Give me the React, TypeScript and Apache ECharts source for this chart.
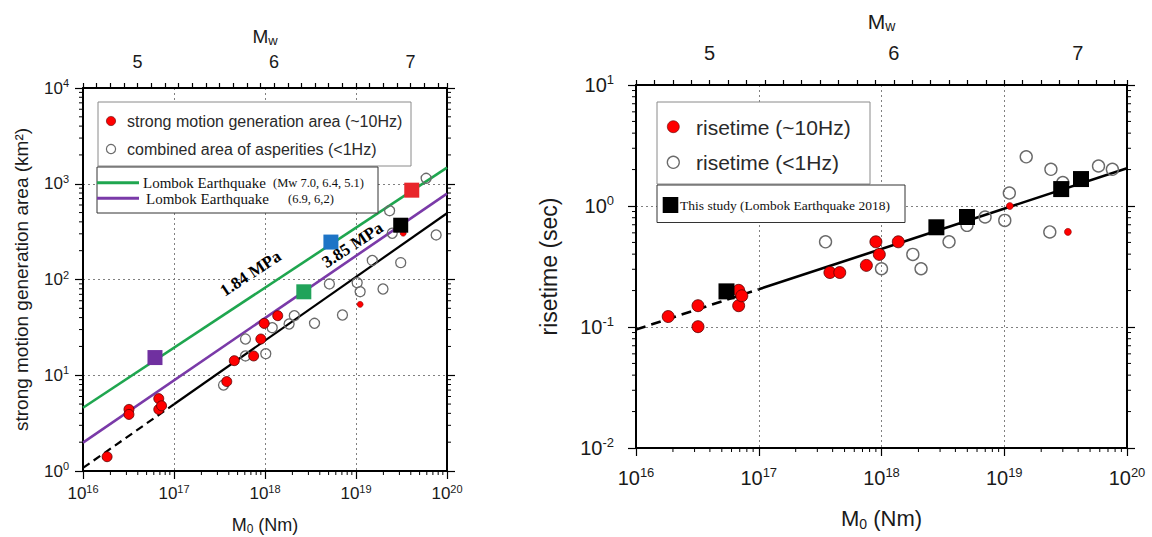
import React, { useEffect, useRef } from 'react';
import * as echarts from 'echarts';

const SANS = '"Liberation Sans", Arial, Helvetica, sans-serif';
const SERIF = '"Liberation Serif", "Times New Roman", Times, serif';

// ---------- Left panel: strong motion generation area ----------
const areaRedM0 = [1.84e16, 3.2e16, 3.2e16, 6.8e16, 6.8e16, 7.3e16, 3.8e17, 4.6e17, 7.5e17, 9.0e17, 9.8e17, 1.38e18];
const areaRedVal = [1.41, 4.4, 3.9, 5.7, 4.4, 4.8, 8.6, 14.2, 15.9, 23.9, 34.8, 41.9];
const areaRedSmallM0 = [1.11e19, 3.3e19];
const areaRedSmallVal = [55, 304];
const areaOpenM0 = [3.5e17, 6.1e17, 6.1e17, 1.02e18, 1.2e18, 1.84e18, 2.1e18, 3.5e18, 5.1e18, 7.1e18, 1.03e19, 1.11e19, 1.98e19, 1.51e19, 3.1e19, 2.34e19, 2.5e19, 7.6e19, 5.9e19];
const areaOpenVal = [7.9, 23.9, 15.9, 16.8, 31.4, 34.3, 41.9, 34.9, 89.8, 42.6, 92.6, 74.6, 79.6, 158, 150, 523, 304, 292, 1140];
const lombokM0 = [6.18e16, 2.67e18, 5.3e18, 3.1e19, 4.1e19];
const lombokArea = [15.3, 74.4, 246, 369, 857];
const greenLineM0 = [1e16, 1e20];
const greenLineArea = [4.58, 1471];
const purpleLineM0 = [1e16, 1e20];
const purpleLineArea = [1.98, 789];
const areaDashM0 = [1e16, 1e17];
const areaDashVal = [1.076, 4.98];
const areaSolidM0 = [1e17, 1e20];
const areaSolidVal = [4.98, 492];

// ---------- Right panel: risetime ----------
const riseRedM0 = [1.83e16, 3.2e16, 3.2e16, 6.86e16, 6.86e16, 7.28e16, 3.8e17, 4.57e17, 7.53e17, 9.0e17, 9.6e17, 1.37e18];
const riseRedVal = [0.122, 0.15, 0.1006, 0.201, 0.15, 0.181, 0.282, 0.282, 0.323, 0.506, 0.398, 0.506];
const riseRedSmallM0 = [1.11e19, 3.3e19];
const riseRedSmallVal = [1.0, 0.611];
const riseOpenM0 = [3.5e17, 1.0e18, 1.8e18, 2.1e18, 3.55e18, 4.97e18, 6.98e18, 1.01e19, 1.1e19, 1.51e19, 2.4e19, 2.35e19, 3.0e19, 5.86e19, 7.6e19];
const riseOpenVal = [0.506, 0.303, 0.398, 0.303, 0.506, 0.692, 0.811, 0.76, 1.28, 2.55, 2.01, 0.61, 1.56, 2.14, 2.01];
const riseThisM0 = [5.46e16, 2.8e18, 4.97e18, 2.91e19, 4.22e19];
const riseThisVal = [0.197, 0.667, 0.811, 1.38, 1.67];
const riseDashM0 = [1e16, 1e17];
const riseDashVal = [0.0953, 0.205];
const riseSolidM0 = [1e17, 1e20];
const riseSolidVal = [0.205, 2.05];

// ---------- Axes ----------
const M0_MIN = 1e16;
const M0_MAX = 1e20;
const AREA_MIN = 1;
const AREA_MAX = 1e4;
const RISE_MIN = 0.01;
const RISE_MAX = 10;
const MINOR_STEPS = [2, 3, 4, 5, 6, 7, 8, 9];
const M0_DECADES = [16, 17, 18, 19];
const AREA_DECADES = [0, 1, 2, 3];
const RISE_DECADES = [-2, -1, 0];
const mw = (m0: number) => (2 / 3) * (Math.log10(m0) - 9.1);
const MW_MIN = 4.6;
const MW_MAX = mw(M0_MAX);

const lombokColors = ['#7030a0', '#21a35a', '#1e74c6', '#000000', '#e8262b'];

const zip = (xs: number[], ys: number[]) => xs.map((x, i) => [x, ys[i]]);
const minorVals = (decades: number[]) => decades.flatMap((d) => MINOR_STEPS.map((m) => m * Math.pow(10, d)));

const TXT = '#1a1a1a';

function logLabel(size: number, sup: number, margin: number) {
  return {
    margin,
    formatter: (v: number) => `{b|10}{s|${Math.round(Math.log10(v))}}`,
    rich: {
      b: { fontSize: size, fontFamily: SANS, color: TXT, lineHeight: size + 4 },
      s: { fontSize: sup, fontFamily: SANS, color: TXT, verticalAlign: 'top', lineHeight: sup },
    },
  };
}

const axisLine = { onZero: false, lineStyle: { color: '#000', width: 2 } };
const tickStyle = { color: '#000', width: 1.2 };
const gridDots = { show: true, lineStyle: { color: '#808080', type: [2, 3], width: 1 } };

function xMinorRender(params: any, api: any) {
  const cs = params.coordSys;
  const p = api.coord([api.value(0), api.value(1)]);
  const yb = cs.y + cs.height;
  return {
    type: 'line',
    shape: { x1: p[0], y1: yb, x2: p[0], y2: yb + 4 },
    style: { stroke: '#000', lineWidth: 1 },
  };
}

function yMinorRender(params: any, api: any) {
  const cs = params.coordSys;
  const p = api.coord([api.value(0), api.value(1)]);
  return {
    type: 'group',
    children: [
      { type: 'line', shape: { x1: cs.x - 4, y1: p[1], x2: cs.x, y2: p[1] }, style: { stroke: '#000', lineWidth: 1 } },
      { type: 'line', shape: { x1: cs.x + cs.width, y1: p[1], x2: cs.x + cs.width + 4, y2: p[1] }, style: { stroke: '#000', lineWidth: 1 } },
    ],
  };
}

function mwFormatter(v: number) {
  return Math.abs(v - Math.round(v)) < 1e-6 ? String(Math.round(v)) : '';
}

function buildOption() {
  const leftRot = Math.atan(0.659);
  return {
    animation: false,
    backgroundColor: '#ffffff',
    grid: [
      { left: 83, top: 88, width: 364, height: 383, containLabel: false, outerBoundsMode: 'none' },
      { left: 636, top: 85, width: 491, height: 363, containLabel: false, outerBoundsMode: 'none' },
    ],
    xAxis: [
      {
        gridIndex: 0, type: 'log', logBase: 10, min: M0_MIN, max: M0_MAX, position: 'bottom',
        axisLine, axisTick: { length: 8, lineStyle: tickStyle }, axisLabel: logLabel(17, 11, 12),
        splitLine: gridDots,
        name: '{a|M}{s|0}{a|\u00a0(Nm)}', nameLocation: 'middle', nameGap: 44,
        nameTextStyle: {
          rich: {
            a: { fontSize: 18, fontFamily: SANS, color: TXT, lineHeight: 20 },
            s: { fontSize: 12, fontFamily: SANS, color: TXT, verticalAlign: 'bottom', lineHeight: 9 },
          },
        },
      },
      {
        gridIndex: 0, type: 'value', position: 'top', min: MW_MIN, max: MW_MAX, interval: 0.1,
        axisLine, axisTick: { length: 5, lineStyle: tickStyle },
        axisLabel: { margin: 17, formatter: mwFormatter, fontSize: 18, fontFamily: SANS, color: TXT },
        splitLine: { show: false },
        name: '{a|M}{s|w}', nameLocation: 'middle', nameGap: 41,
        nameTextStyle: {
          rich: {
            a: { fontSize: 19, fontFamily: SANS, color: TXT, lineHeight: 21 },
            s: { fontSize: 13, fontFamily: SANS, color: TXT, verticalAlign: 'bottom', lineHeight: 10 },
          },
        },
      },
      {
        gridIndex: 1, type: 'log', logBase: 10, min: M0_MIN, max: M0_MAX, position: 'bottom',
        axisLine, axisTick: { length: 8, lineStyle: tickStyle }, axisLabel: logLabel(20, 13, 18),
        splitLine: gridDots,
        name: '{a|M}{s|0}{a|\u00a0(Nm)}', nameLocation: 'middle', nameGap: 57,
        nameTextStyle: {
          rich: {
            a: { fontSize: 22, fontFamily: SANS, color: TXT, lineHeight: 26 },
            s: { fontSize: 14, fontFamily: SANS, color: TXT, verticalAlign: 'bottom', lineHeight: 12 },
          },
        },
      },
      {
        gridIndex: 1, type: 'value', position: 'top', min: MW_MIN, max: MW_MAX, interval: 0.1,
        axisLine, axisTick: { length: 5, lineStyle: tickStyle },
        axisLabel: { margin: 22, formatter: mwFormatter, fontSize: 20, fontFamily: SANS, color: TXT },
        splitLine: { show: false },
        name: '{a|M}{s|w}', nameLocation: 'middle', nameGap: 52,
        nameTextStyle: {
          rich: {
            a: { fontSize: 21, fontFamily: SANS, color: TXT, lineHeight: 24 },
            s: { fontSize: 14, fontFamily: SANS, color: TXT, verticalAlign: 'bottom', lineHeight: 12 },
          },
        },
      },
    ],
    yAxis: [
      {
        gridIndex: 0, type: 'log', logBase: 10, min: AREA_MIN, max: AREA_MAX, position: 'left',
        axisLine, axisTick: { length: 8, lineStyle: tickStyle }, axisLabel: logLabel(17, 11, 14),
        splitLine: gridDots,
        name: 'strong motion generation area (km²)', nameLocation: 'middle', nameGap: 52,
        nameTextStyle: { fontSize: 19, fontFamily: SANS, color: TXT },
      },
      {
        gridIndex: 0, type: 'log', logBase: 10, min: AREA_MIN, max: AREA_MAX, position: 'right',
        axisLine, axisTick: { length: 8, lineStyle: tickStyle }, axisLabel: { show: false },
        splitLine: { show: false },
      },
      {
        gridIndex: 1, type: 'log', logBase: 10, min: RISE_MIN, max: RISE_MAX, position: 'left',
        axisLine, axisTick: { length: 8, lineStyle: tickStyle }, axisLabel: logLabel(20, 13, 22),
        splitLine: gridDots,
        name: 'risetime (sec)', nameLocation: 'middle', nameGap: 76,
        nameTextStyle: { fontSize: 23, fontFamily: SANS, color: TXT },
      },
      {
        gridIndex: 1, type: 'log', logBase: 10, min: RISE_MIN, max: RISE_MAX, position: 'right',
        axisLine, axisTick: { length: 8, lineStyle: tickStyle }, axisLabel: { show: false },
        splitLine: { show: false },
      },
    ],
    series: [
      // minor log ticks
      { type: 'custom', xAxisIndex: 0, yAxisIndex: 0, renderItem: xMinorRender, clip: false, silent: true, z: 10,
        data: minorVals(M0_DECADES).map((v) => [v, AREA_MIN]) },
      { type: 'custom', xAxisIndex: 0, yAxisIndex: 0, renderItem: yMinorRender, clip: false, silent: true, z: 10,
        data: minorVals(AREA_DECADES).map((v) => [M0_MIN, v]) },
      { type: 'custom', xAxisIndex: 2, yAxisIndex: 2, renderItem: xMinorRender, clip: false, silent: true, z: 10,
        data: minorVals(M0_DECADES).map((v) => [v, RISE_MIN]) },
      { type: 'custom', xAxisIndex: 2, yAxisIndex: 2, renderItem: yMinorRender, clip: false, silent: true, z: 10,
        data: minorVals(RISE_DECADES).map((v) => [M0_MIN, v]) },

      // ----- left panel -----
      { type: 'line', xAxisIndex: 0, yAxisIndex: 0, data: zip(greenLineM0, greenLineArea), symbol: 'none', silent: true,
        lineStyle: { color: '#1fa64f', width: 2.6 }, z: 2 },
      { type: 'line', xAxisIndex: 0, yAxisIndex: 0, data: zip(purpleLineM0, purpleLineArea), symbol: 'none', silent: true,
        lineStyle: { color: '#7a3aa8', width: 2.6 }, z: 2 },
      { type: 'line', xAxisIndex: 0, yAxisIndex: 0, data: zip(areaDashM0, areaDashVal), symbol: 'none', silent: true,
        lineStyle: { color: '#000', width: 2.2, type: [8, 5] }, z: 2 },
      { type: 'line', xAxisIndex: 0, yAxisIndex: 0, data: zip(areaSolidM0, areaSolidVal), symbol: 'none', silent: true,
        lineStyle: { color: '#000', width: 2.2 }, z: 2 },
      { type: 'scatter', xAxisIndex: 0, yAxisIndex: 0, data: zip(areaOpenM0, areaOpenVal), symbol: 'circle', symbolSize: 10, silent: true,
        itemStyle: { color: 'rgba(255,255,255,0)', borderColor: '#6a6a6a', borderWidth: 1.3, opacity: 1 }, z: 3 },
      { type: 'scatter', xAxisIndex: 0, yAxisIndex: 0, data: zip(areaRedM0, areaRedVal), symbol: 'circle', symbolSize: 10, silent: true,
        itemStyle: { color: '#ff0000', borderColor: '#5a0000', borderWidth: 0.8, opacity: 1 }, z: 4 },
      { type: 'scatter', xAxisIndex: 0, yAxisIndex: 0, data: zip(areaRedSmallM0, areaRedSmallVal), symbol: 'circle', symbolSize: 6, silent: true,
        itemStyle: { color: '#ff0000', borderColor: '#7a0000', borderWidth: 0.5, opacity: 1 }, z: 4 },
      { type: 'scatter', xAxisIndex: 0, yAxisIndex: 0, symbol: 'rect', symbolSize: 15, silent: true, z: 5,
        data: lombokM0.map((x, i) => ({ value: [x, lombokArea[i]], itemStyle: { color: lombokColors[i], opacity: 1 } })) },

      // ----- right panel -----
      { type: 'line', xAxisIndex: 2, yAxisIndex: 2, data: zip(riseDashM0, riseDashVal), symbol: 'none', silent: true,
        lineStyle: { color: '#000', width: 2.6, type: [10, 6] }, z: 2 },
      { type: 'line', xAxisIndex: 2, yAxisIndex: 2, data: zip(riseSolidM0, riseSolidVal), symbol: 'none', silent: true,
        lineStyle: { color: '#000', width: 2.6 }, z: 2 },
      { type: 'scatter', xAxisIndex: 2, yAxisIndex: 2, data: zip(riseOpenM0, riseOpenVal), symbol: 'circle', symbolSize: 12, silent: true,
        itemStyle: { color: 'rgba(255,255,255,0)', borderColor: '#6a6a6a', borderWidth: 1.4, opacity: 1 }, z: 3 },
      { type: 'scatter', xAxisIndex: 2, yAxisIndex: 2, data: zip(riseRedM0, riseRedVal), symbol: 'circle', symbolSize: 12, silent: true,
        itemStyle: { color: '#ff0000', borderColor: '#5a0000', borderWidth: 0.8, opacity: 1 }, z: 4 },
      { type: 'scatter', xAxisIndex: 2, yAxisIndex: 2, data: zip(riseRedSmallM0, riseRedSmallVal), symbol: 'circle', symbolSize: 7, silent: true,
        itemStyle: { color: '#ff0000', borderColor: '#7a0000', borderWidth: 0.5, opacity: 1 }, z: 4 },
      { type: 'scatter', xAxisIndex: 2, yAxisIndex: 2, data: zip(riseThisM0, riseThisVal), symbol: 'rect', symbolSize: 16, silent: true,
        itemStyle: { color: '#000', opacity: 1 }, z: 5 },
    ],
    graphic: [
      // left legend box 1
      { type: 'rect', z: 100, shape: { x: 98, y: 102, width: 313, height: 64 }, style: { fill: '#fff', stroke: '#8a8a8a', lineWidth: 1 } },
      { type: 'circle', z: 101, shape: { cx: 111, cy: 121, r: 4.6 }, style: { fill: '#ff0000', stroke: '#5a0000', lineWidth: 0.6 } },
      { type: 'text', z: 101, x: 127, y: 121, style: { text: 'strong motion generation area (~10Hz)', fontSize: 16, fontFamily: SANS, fill: '#2a2a2a', align: 'left', verticalAlign: 'middle' } },
      { type: 'circle', z: 101, shape: { cx: 111, cy: 149, r: 4.6 }, style: { fill: '#fff', stroke: '#6a6a6a', lineWidth: 1.2 } },
      { type: 'text', z: 101, x: 127, y: 149, style: { text: 'combined area of asperities (<1Hz)', fontSize: 16, fontFamily: SANS, fill: '#2a2a2a', align: 'left', verticalAlign: 'middle' } },
      // left legend box 2
      { type: 'rect', z: 100, shape: { x: 97, y: 167, width: 281, height: 46 }, style: { fill: '#fff', stroke: '#333', lineWidth: 1 } },
      { type: 'line', z: 101, shape: { x1: 97, y1: 182.7, x2: 139, y2: 182.7 }, style: { stroke: '#1fa64f', lineWidth: 3 } },
      { type: 'line', z: 101, shape: { x1: 97, y1: 198.3, x2: 139, y2: 198.3 }, style: { stroke: '#7a3aa8', lineWidth: 3 } },
      { type: 'text', z: 101, x: 143, y: 183, style: { text: 'Lombok Earthquake', fontSize: 15, fontFamily: SERIF, fill: '#111', align: 'left', verticalAlign: 'middle' } },
      { type: 'text', z: 101, x: 273, y: 183, style: { text: '(Mw 7.0, 6.4, 5.1)', fontSize: 12.5, fontFamily: SERIF, fill: '#111', align: 'left', verticalAlign: 'middle' } },
      { type: 'text', z: 101, x: 146, y: 199, style: { text: 'Lombok Earthquake', fontSize: 15, fontFamily: SERIF, fill: '#111', align: 'left', verticalAlign: 'middle' } },
      { type: 'text', z: 101, x: 288, y: 199, style: { text: '(6.9, 6,2)', fontSize: 12.5, fontFamily: SERIF, fill: '#111', align: 'left', verticalAlign: 'middle' } },
      // stress drop annotations
      { type: 'text', z: 90, x: 250.5, y: 273.5, rotation: leftRot, style: { text: '1.84 MPa', fontSize: 17, fontWeight: 'bold', fontFamily: SERIF, fill: '#000', align: 'center', verticalAlign: 'middle' } },
      { type: 'text', z: 90, x: 352.5, y: 245, rotation: leftRot, style: { text: '3.85 MPa', fontSize: 17, fontWeight: 'bold', fontFamily: SERIF, fill: '#000', align: 'center', verticalAlign: 'middle' } },

      // right legend box 1
      { type: 'rect', z: 100, shape: { x: 657, y: 102, width: 213, height: 82 }, style: { fill: '#fff', stroke: '#8a8a8a', lineWidth: 1 } },
      { type: 'circle', z: 101, shape: { cx: 673.3, cy: 126.7, r: 6 }, style: { fill: '#ff0000', stroke: '#5a0000', lineWidth: 0.6 } },
      { type: 'text', z: 101, x: 696, y: 127, style: { text: 'risetime (~10Hz)', fontSize: 21, fontFamily: SANS, fill: '#2a2a2a', align: 'left', verticalAlign: 'middle' } },
      { type: 'circle', z: 101, shape: { cx: 673.3, cy: 162.3, r: 6 }, style: { fill: '#fff', stroke: '#6a6a6a', lineWidth: 1.3 } },
      { type: 'text', z: 101, x: 696, y: 162.5, style: { text: 'risetime (<1Hz)', fontSize: 21, fontFamily: SANS, fill: '#2a2a2a', align: 'left', verticalAlign: 'middle' } },
      // right legend box 2
      { type: 'rect', z: 100, shape: { x: 657, y: 185, width: 248, height: 37.5 }, style: { fill: '#fff', stroke: '#333', lineWidth: 1 } },
      { type: 'rect', z: 101, shape: { x: 662.7, y: 197, width: 15.6, height: 16 }, style: { fill: '#000' } },
      { type: 'text', z: 101, x: 680, y: 205, style: { text: 'This study (Lombok Earthquake 2018)', fontSize: 13.5, fontFamily: SERIF, fill: '#111', align: 'left', verticalAlign: 'middle' } },
    ],
  };
}

export default function App() {
  const ref = useRef<HTMLDivElement>(null);
  useEffect(() => {
    if (!ref.current) return;
    const chart = echarts.init(ref.current, undefined, { renderer: 'svg' });
    chart.setOption(buildOption() as any);
    return () => chart.dispose();
  }, []);
  return (
    <div
      ref={ref}
      style={{ position: 'fixed', left: 0, top: 0, width: 1152, height: 537, background: '#fff' }}
    />
  );
}
